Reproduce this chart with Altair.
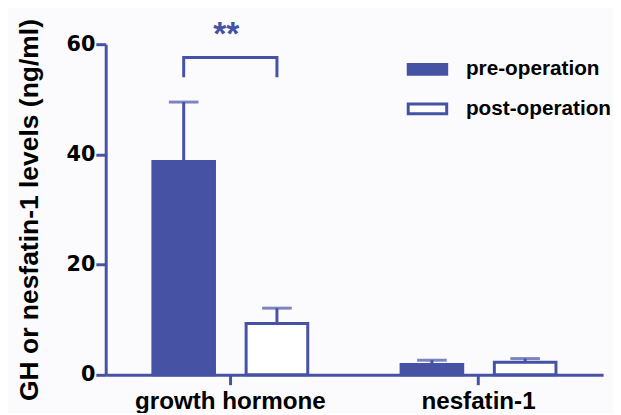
import altair as alt
import pandas as pd

BLUE = "#4652A4"

hormones = ["growth hormone", "nesfatin-1"]
groups = ["pre-operation", "post-operation"]
pre_mean = [38.7, 1.9]
pre_sem = [10.8, 0.75]
post_mean = [9.3, 2.3]
post_sem = [2.8, 0.65]

# significance bracket (between GH pre and GH post)
bracket_group = ["pre-operation", "pre-operation", "post-operation", "post-operation"]
bracket_y = [54.0, 57.6, 57.6, 54.0]
star_label = "**"
star_y = 59.8

rows = []
for i, h in enumerate(hormones):
    rows.append({"hormone": h, "group": groups[0], "mean": pre_mean[i], "upper": pre_mean[i] + pre_sem[i]})
    rows.append({"hormone": h, "group": groups[1], "mean": post_mean[i], "upper": post_mean[i] + post_sem[i]})
df = pd.DataFrame(rows)

bdf = pd.DataFrame({
    "hormone": [hormones[0]] * 4,
    "group": bracket_group,
    "y": bracket_y,
    "ord": list(range(4)),
})
sdf = pd.DataFrame({"hormone": [hormones[0]], "y": [star_y], "label": [star_label]})

xenc = alt.X(
    "hormone:N",
    sort=hormones,
    scale=alt.Scale(paddingInner=0.376, paddingOuter=0.19),
    axis=alt.Axis(
        title=None,
        labelAngle=0,
        labelFont="Liberation Sans",
        labelFontWeight="bold",
        labelFontSize=24.5,
        labelColor="black",
        labelPadding=5,
        labelLimit=400,
    ),
)
xoff = alt.XOffset("group:N", sort=groups, scale=alt.Scale(paddingInner=0.339, paddingOuter=0))
yscale = alt.Scale(domain=[0, 60], nice=False)
yaxis = alt.Axis(
    values=[0, 20, 40, 60],
    title="GH or nesfatin-1 levels (ng/ml)",
    labelFont="DejaVu Sans",
    labelFontWeight="bold",
    labelFontSize=21,
    labelColor="black",
    labelPadding=1,
    titleFont="Liberation Sans",
    titleFontWeight="bold",
    titleFontSize=26.8,
    titleColor="black",
    titleX=-69,
    titleY=167.5,
    titleAngle=-90,
    titleAlign="center",
    titleBaseline="alphabetic",
)

base = alt.Chart(df).encode(x=xenc, xOffset=xoff)

bars = base.mark_bar(stroke=BLUE, strokeWidth=3).encode(
    y=alt.Y("mean:Q", scale=yscale, axis=yaxis),
    fill=alt.Fill(
        "group:N",
        scale=alt.Scale(domain=groups, range=[BLUE, "white"]),
        legend=alt.Legend(
            title=None,
            orient="none",
            legendX=305,
            legendY=4.5,
            rowPadding=8,
            labelOffset=18,
            labelFont="Liberation Sans",
            labelFontWeight="bold",
            labelFontSize=21,
            labelColor="black",
            labelLimit=300,
            symbolType="M-1,-0.256 L1,-0.256 L1,0.256 L-1,0.256 Z",
            symbolSize=1521,
            symbolStrokeColor=BLUE,
            symbolStrokeWidth=3,
            padding=0,
        ),
    ),
)

err = base.mark_rule(stroke=BLUE, strokeWidth=3).encode(y="mean:Q", y2="upper:Q")
caps = base.mark_tick(color=BLUE, thickness=3, size=30).encode(y="upper:Q")

bracket = alt.Chart(bdf).mark_line(stroke=BLUE, strokeWidth=3, xOffset=-6).encode(
    x=alt.X("hormone:N", sort=hormones),
    xOffset=alt.XOffset("group:N", sort=groups),
    y="y:Q",
    order="ord:Q",
)

stars = alt.Chart(sdf).mark_text(
    color=BLUE, font="Liberation Sans", fontWeight="bold", fontSize=34, dx=-4, baseline="alphabetic"
).encode(x=alt.X("hormone:N", sort=hormones), y="y:Q", text="label:N")

chart = (
    alt.layer(bars, err, caps, bracket, stars)
    .properties(
        width=504,
        height=335,
        autosize=alt.AutoSizeParams(type="none"),
        padding={"left": 99, "top": 34, "right": 10, "bottom": 36},
        background="#FBFBFD",
    )
    .configure_view(stroke=None)
    .configure_axis(
        grid=False,
        domainColor=BLUE,
        domainWidth=3,
        tickColor=BLUE,
        tickWidth=3,
        tickSize=10,
    )
)

chart.save("out.html", embed_options={"renderer": "svg", "actions": False})
